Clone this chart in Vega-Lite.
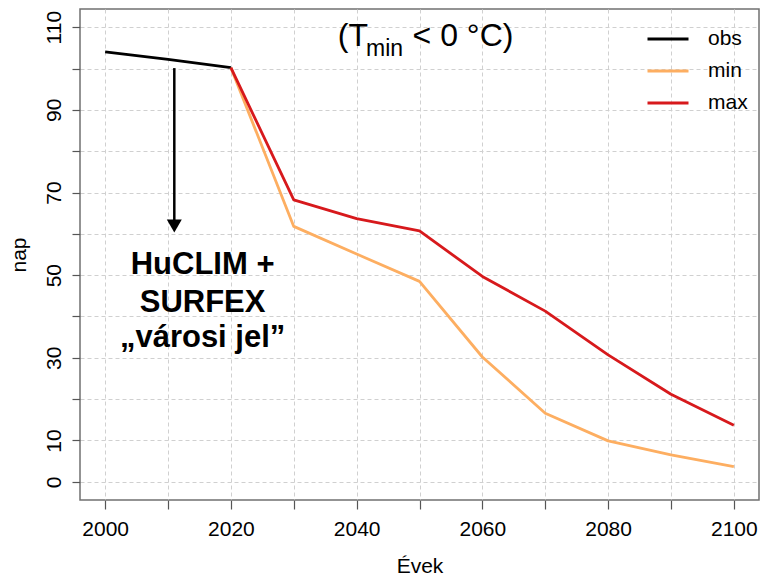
{
  "$schema": "https://vega.github.io/schema/vega-lite/v6.json",
  "width": 679,
  "height": 491,
  "autosize": {"type": "none"},
  "padding": {"left": 80, "top": 9, "right": 2, "bottom": 75},
  "background": "white",
  "config": {
    "font": "Liberation Sans",
    "view": {"stroke": "#707070", "strokeWidth": 1.5},
    "axis": {
      "grid": true,
      "gridColor": "#d0d0d0",
      "gridDash": [4, 3],
      "gridWidth": 1,
      "domain": false,
      "tickColor": "#555555",
      "tickSize": 9,
      "tickWidth": 1.2,
      "labelFont": "Liberation Sans",
      "labelFontSize": 21,
      "labelColor": "#000000",
      "titleFont": "Liberation Sans",
      "titleFontSize": 21,
      "titleFontWeight": "normal",
      "titleColor": "#000000"
    }
  },
  "datasets": {
    "series": [
      {"year": 2000, "nap": 104.0, "series": "obs"},
      {"year": 2010, "nap": 102.2, "series": "obs"},
      {"year": 2020, "nap": 100.2, "series": "obs"},
      {"year": 2020, "nap": 100.2, "series": "min"},
      {"year": 2030, "nap": 61.8, "series": "min"},
      {"year": 2040, "nap": 55.1, "series": "min"},
      {"year": 2050, "nap": 48.5, "series": "min"},
      {"year": 2060, "nap": 30.2, "series": "min"},
      {"year": 2070, "nap": 16.6, "series": "min"},
      {"year": 2080, "nap": 9.9, "series": "min"},
      {"year": 2090, "nap": 6.5, "series": "min"},
      {"year": 2100, "nap": 3.7, "series": "min"},
      {"year": 2020, "nap": 100.2, "series": "max"},
      {"year": 2030, "nap": 68.2, "series": "max"},
      {"year": 2040, "nap": 63.7, "series": "max"},
      {"year": 2050, "nap": 60.7, "series": "max"},
      {"year": 2060, "nap": 49.7, "series": "max"},
      {"year": 2070, "nap": 41.3, "series": "max"},
      {"year": 2080, "nap": 30.7, "series": "max"},
      {"year": 2090, "nap": 21.2, "series": "max"},
      {"year": 2100, "nap": 13.7, "series": "max"}
    ],
    "arrow": [
      {"year": 2011, "from": 100.1, "to": 63.0, "head": 61.9}
    ],
    "note": [
      {"year": 2015.5, "nap": 50.2, "text": "HuCLIM +"},
      {"year": 2015.5, "nap": 41.1, "text": "SURFEX"},
      {"year": 2015.5, "nap": 32.5, "text": "„városi jel”"}
    ],
    "heading": [
      {"year": 2037.0, "nap": 105.5, "text": "(T", "part": "main"},
      {"year": 2041.5, "nap": 103.0, "text": "min", "part": "sub"},
      {"year": 2048.9, "nap": 105.5, "text": "< 0 °C)", "part": "main"}
    ]
  },
  "layer": [
    {
      "data": {"name": "series"},
      "mark": {"type": "line", "strokeWidth": 2.8, "strokeJoin": "round"},
      "encoding": {
        "x": {
          "field": "year",
          "type": "quantitative",
          "title": "Évek",
          "scale": {"domain": [1996, 2104], "nice": false, "zero": false},
          "axis": {
            "values": [2000, 2010, 2020, 2030, 2040, 2050, 2060, 2070, 2080, 2090, 2100],
            "format": "d",
            "labelExpr": "datum.value % 20 == 0 ? datum.label : ''",
            "labelPadding": 9,
            "titleY": 72,
            "titleBaseline": "alphabetic"
          }
        },
        "y": {
          "field": "nap",
          "type": "quantitative",
          "title": "nap",
          "scale": {"domain": [-4.4, 114.4], "nice": false, "zero": false},
          "axis": {
            "values": [0, 10, 20, 30, 40, 50, 60, 70, 80, 90, 100, 110],
            "labelExpr": "datum.value == 0 || datum.value % 20 == 10 ? datum.label : ''",
            "tickSize": 8,
            "labelAngle": 270,
            "labelAlign": "center",
            "labelBaseline": "alphabetic",
            "labelPadding": 12,
            "titleAngle": 270,
            "titleAlign": "center",
            "titleBaseline": "alphabetic",
            "titleX": -55,
            "titleY": 245.5
          }
        },
        "color": {
          "field": "series",
          "type": "nominal",
          "scale": {"domain": ["obs", "min", "max"], "range": ["#000000", "#FDAE61", "#D7191C"]},
          "legend": {
            "title": null,
            "orient": "none",
            "legendX": 566,
            "legendY": 8,
            "symbolType": "stroke",
            "symbolSize": 1681,
            "symbolStrokeWidth": 3,
            "labelFontSize": 21,
            "labelFont": "Liberation Sans",
            "labelColor": "#000000",
            "labelOffset": 18,
            "rowPadding": -5
          }
        }
      }
    },
    {
      "data": {"name": "arrow"},
      "mark": {"type": "rule", "color": "#000000", "strokeWidth": 2.5},
      "encoding": {
        "x": {"field": "year", "type": "quantitative"},
        "y": {"field": "from", "type": "quantitative"},
        "y2": {"field": "to"}
      }
    },
    {
      "data": {"name": "arrow"},
      "mark": {"type": "point", "shape": "triangle-down", "filled": true, "color": "#000000", "size": 225, "opacity": 1},
      "encoding": {
        "x": {"field": "year", "type": "quantitative"},
        "y": {"field": "head", "type": "quantitative"}
      }
    },
    {
      "data": {"name": "note"},
      "mark": {"type": "text", "font": "Liberation Sans", "fontWeight": "bold", "fontSize": 31, "align": "center", "baseline": "alphabetic", "color": "#000000"},
      "encoding": {
        "x": {"field": "year", "type": "quantitative"},
        "y": {"field": "nap", "type": "quantitative"},
        "text": {"field": "text"}
      }
    },
    {
      "data": {"name": "heading"},
      "transform": [{"filter": "datum.part == 'main'"}],
      "mark": {"type": "text", "font": "Liberation Sans", "fontSize": 32, "align": "left", "baseline": "alphabetic", "color": "#000000"},
      "encoding": {
        "x": {"field": "year", "type": "quantitative"},
        "y": {"field": "nap", "type": "quantitative"},
        "text": {"field": "text"}
      }
    },
    {
      "data": {"name": "heading"},
      "transform": [{"filter": "datum.part == 'sub'"}],
      "mark": {"type": "text", "font": "Liberation Sans", "fontSize": 23, "align": "left", "baseline": "alphabetic", "color": "#000000"},
      "encoding": {
        "x": {"field": "year", "type": "quantitative"},
        "y": {"field": "nap", "type": "quantitative"},
        "text": {"field": "text"}
      }
    }
  ]
}
